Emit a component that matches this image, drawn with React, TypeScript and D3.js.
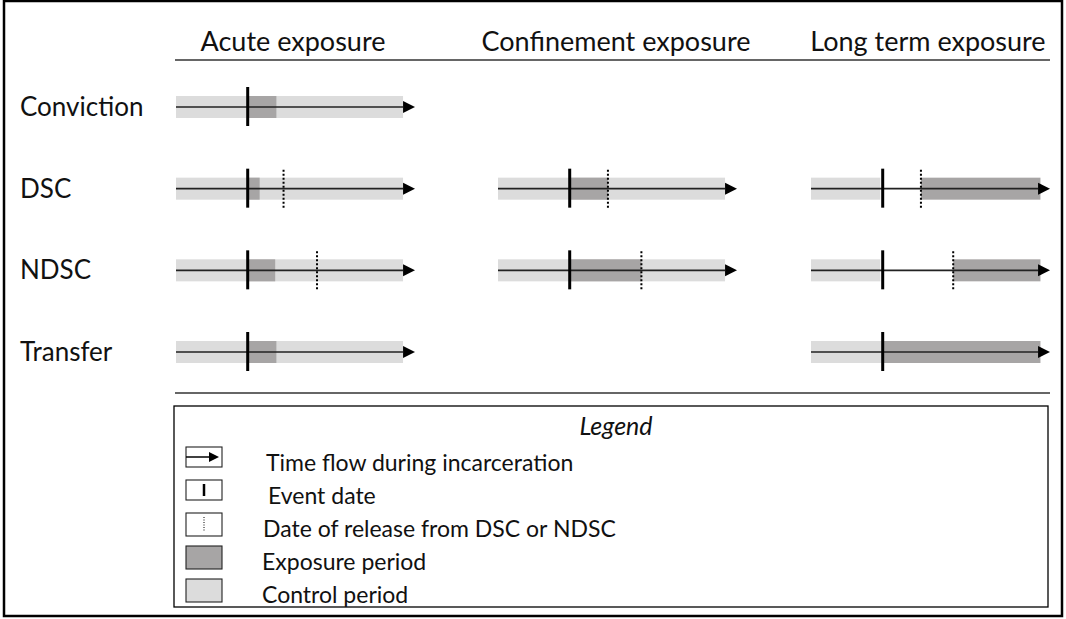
import React from "react";
import * as d3 from "d3";

const rowLabels = ["Conviction", "DSC", "NDSC", "Transfer"];
const columnTitles = ["Acute exposure", "Confinement exposure", "Long term exposure"];

// Timelines on a 0–100 time scale within each panel (100 = arrow tip)
type Timeline = {
  row: number;
  col: number;
  control: [number, number];
  exposure: [number, number];
  event: number;
  release: number | null;
};
const timelines: Timeline[] = [
  { row: 0, col: 0, control: [0, 95], exposure: [30, 42], event: 30, release: null },
  { row: 1, col: 0, control: [0, 95], exposure: [30, 35], event: 30, release: 45 },
  { row: 1, col: 1, control: [0, 95], exposure: [30, 46], event: 30, release: 46 },
  { row: 1, col: 2, control: [0, 29], exposure: [46, 96], event: 30, release: 46 },
  { row: 2, col: 0, control: [0, 95], exposure: [30, 41.5], event: 30, release: 59 },
  { row: 2, col: 1, control: [0, 95], exposure: [30, 60], event: 30, release: 60 },
  { row: 2, col: 2, control: [0, 29], exposure: [59.5, 96], event: 30, release: 59.5 },
  { row: 3, col: 0, control: [0, 95], exposure: [30, 42], event: 30, release: null },
  { row: 3, col: 2, control: [0, 30], exposure: [30, 96], event: 30, release: null },
];

const legendLabels = [
  "Time flow during incarceration",
  "Event date",
  "Date of release from DSC or NDSC",
  "Exposure period",
  "Control period",
];

const LIGHT = "#dcdcdc";
const DARK = "#a7a5a5";
const FONT = "Lato, 'Open Sans', sans-serif";

export default function App() {
  const W = 1066, H = 619;
  const panelStarts = [176, 498, 811];
  const panelWidth = 239;
  const y = d3.scalePoint<string>().domain(rowLabels).range([107, 352]);
  const titleX = [293, 616, 928];
  const barH = 22;

  const legendY = d3.scalePoint<string>().domain(legendLabels).range([471, 603]);
  const legendTextX = [266, 268, 263, 262, 262];

  return (
    <svg width={W} height={H} style={{ display: "block", position: "absolute", left: 0, top: 0 }}>
      <rect x={0} y={0} width={W} height={H} fill="#fff" />
      <rect x={4} y={1} width={1058} height={615} fill="none" stroke="#000" strokeWidth={2.5} />

      {columnTitles.map((t, i) => (
        <text key={t} x={titleX[i]} y={51} textAnchor="middle" fontFamily={FONT} fontSize={27} fill="#111">
          {t}
        </text>
      ))}
      <line x1={175} x2={1050} y1={60} y2={60} stroke="#333" strokeWidth={1.6} />
      <line x1={175} x2={1050} y1={393} y2={393} stroke="#333" strokeWidth={1.6} />

      {rowLabels.map((r) => (
        <text key={r} x={20} y={(y(r) as number) + 9} fontFamily={FONT} fontSize={26} fill="#111">
          {r}
        </text>
      ))}

      {timelines.map((tl, i) => {
        const x = d3.scaleLinear().domain([0, 100]).range([panelStarts[tl.col], panelStarts[tl.col] + panelWidth]);
        const cy = y(rowLabels[tl.row]) as number;
        return (
          <g key={i}>
            <rect x={x(tl.control[0])} y={cy - barH / 2} width={x(tl.control[1]) - x(tl.control[0])} height={barH} fill={LIGHT} />
            <rect x={x(tl.exposure[0])} y={cy - barH / 2} width={x(tl.exposure[1]) - x(tl.exposure[0])} height={barH} fill={DARK} />
            <line x1={x(0)} x2={x(95)} y1={cy} y2={cy} stroke="#222" strokeWidth={1.6} />
            <path d={`M${x(95)},${cy - 6}L${x(100)},${cy}L${x(95)},${cy + 6}Z`} fill="#000" />
            <line x1={x(tl.event)} x2={x(tl.event)} y1={cy - 20} y2={cy + 19} stroke="#000" strokeWidth={3} />
            {tl.release !== null && (
              <line x1={x(tl.release)} x2={x(tl.release)} y1={cy - 19} y2={cy + 19} stroke="#000" strokeWidth={2} strokeDasharray="2,2" />
            )}
          </g>
        );
      })}

      <rect x={174} y={406} width={874} height={201} fill="none" stroke="#000" strokeWidth={1.3} />
      <text x={616} y={435} textAnchor="middle" fontFamily={FONT} fontStyle="italic" fontSize={25} fill="#111">
        Legend
      </text>

      {legendLabels.map((l, i) => {
        const base = legendY(l) as number;
        const bx = 186, bw = 36;
        const bh = i < 2 ? 20 : 23;
        const top = base - 24;
        return (
          <g key={l}>
            <rect x={bx} y={top} width={bw} height={bh}
              fill={i === 3 ? DARK : i === 4 ? LIGHT : "#fff"} stroke="#222" strokeWidth={1.1} />
            {i === 0 && (
              <g>
                <line x1={bx} x2={bx + 25} y1={top + bh / 2} y2={top + bh / 2} stroke="#000" strokeWidth={1.5} />
                <path d={`M${bx + 23},${top + bh / 2 - 5}L${bx + 33},${top + bh / 2}L${bx + 23},${top + bh / 2 + 5}Z`} fill="#000" />
              </g>
            )}
            {i === 1 && <line x1={bx + bw / 2} x2={bx + bw / 2} y1={top + 4} y2={top + bh - 4} stroke="#000" strokeWidth={2.5} />}
            {i === 2 && <line x1={bx + bw / 2} x2={bx + bw / 2} y1={top + 4} y2={top + bh - 4} stroke="#000" strokeWidth={1} strokeDasharray="1,1.5" />}
            <text x={legendTextX[i]} y={base} fontFamily={FONT} fontSize={23} fill="#111">
              {l}
            </text>
          </g>
        );
      })}
    </svg>
  );
}
